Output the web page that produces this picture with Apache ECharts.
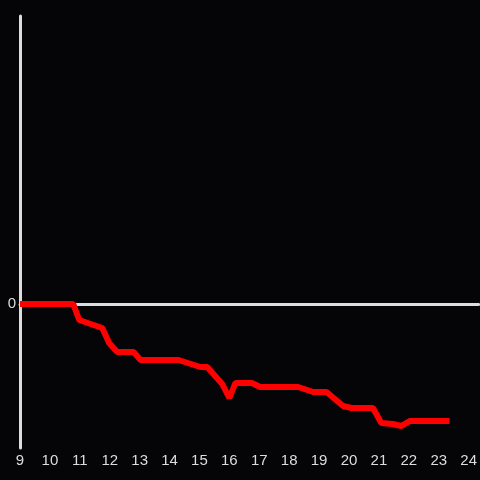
<!DOCTYPE html>
<html>
<head>
<meta charset="utf-8">
<script src="https://cdn.jsdelivr.net/npm/echarts@6/dist/echarts.min.js"></script>
<style>
  html, body { margin: 0; padding: 0; background: #050407; }
  #chart { width: 480px; height: 480px; }
</style>
</head>
<body>
<div id="chart"></div>
<script>
// time of day (hours) and value for the red series
const hours = [9, 10.78, 10.98, 11.75, 11.98, 12.25, 12.8, 13.03, 14.3, 15.03, 15.26, 15.76, 16.0,
  16.2, 16.75, 17.03, 18.3, 18.8, 19.25, 19.8, 20.08, 20.8, 21.08, 21.46, 21.75, 22.03, 23.36];
const values = [0, 0, -16, -24, -39, -48, -48, -56, -56, -63, -63, -80, -94,
  -79, -79, -83, -83, -88, -88, -102, -104, -104, -119, -120, -122, -117, -117];
const xTicks = [9, 10, 11, 12, 13, 14, 15, 16, 17, 18, 19, 20, 21, 22, 23, 24];

const axisColor = "#dddddd";
const chart = echarts.init(document.getElementById("chart"));

chart.setOption({
  backgroundColor: "#050407",
  animation: false,
  grid: { left: 20, right: 0, top: 16, bottom: 32 },
  xAxis: [
    {
      type: "value",
      min: 9,
      max: 24.333,
      interval: 1,
      position: "bottom",
      axisLine: { show: false, onZero: false },
      axisTick: { show: false },
      splitLine: { show: false },
      axisLabel: {
        color: axisColor,
        fontSize: 15,
        fontFamily: "Liberation Sans, Arial, sans-serif",
        margin: 5,
        showMaxLabel: false,
        formatter: (v) => (xTicks.includes(v) ? String(v) : ""),
      },
    },
    {
      // zero line
      type: "value",
      min: 9,
      max: 24.333,
      axisLine: { show: true, onZero: true, lineStyle: { color: axisColor, width: 3 } },
      axisTick: { show: false },
      axisLabel: { show: false },
      splitLine: { show: false },
    },
  ],
  yAxis: {
    type: "value",
    min: -144,
    max: 288,
    interval: 2,
    axisLine: { show: true, lineStyle: { color: axisColor, width: 3 } },
    axisTick: { show: false },
    splitLine: { show: false },
    axisLabel: {
      color: axisColor,
      fontSize: 15,
      fontFamily: "Liberation Sans, Arial, sans-serif",
      margin: 4,
      formatter: (v) => (v === 0 ? "0" : ""),
    },
  },
  series: [
    {
      type: "line",
      xAxisIndex: 0,
      data: hours.map((h, i) => [h, values[i]]),
      showSymbol: false,
      lineStyle: { color: "#ff0000", width: 6 },
      z: 5,
    },
  ],
});
</script>
</body>
</html>
